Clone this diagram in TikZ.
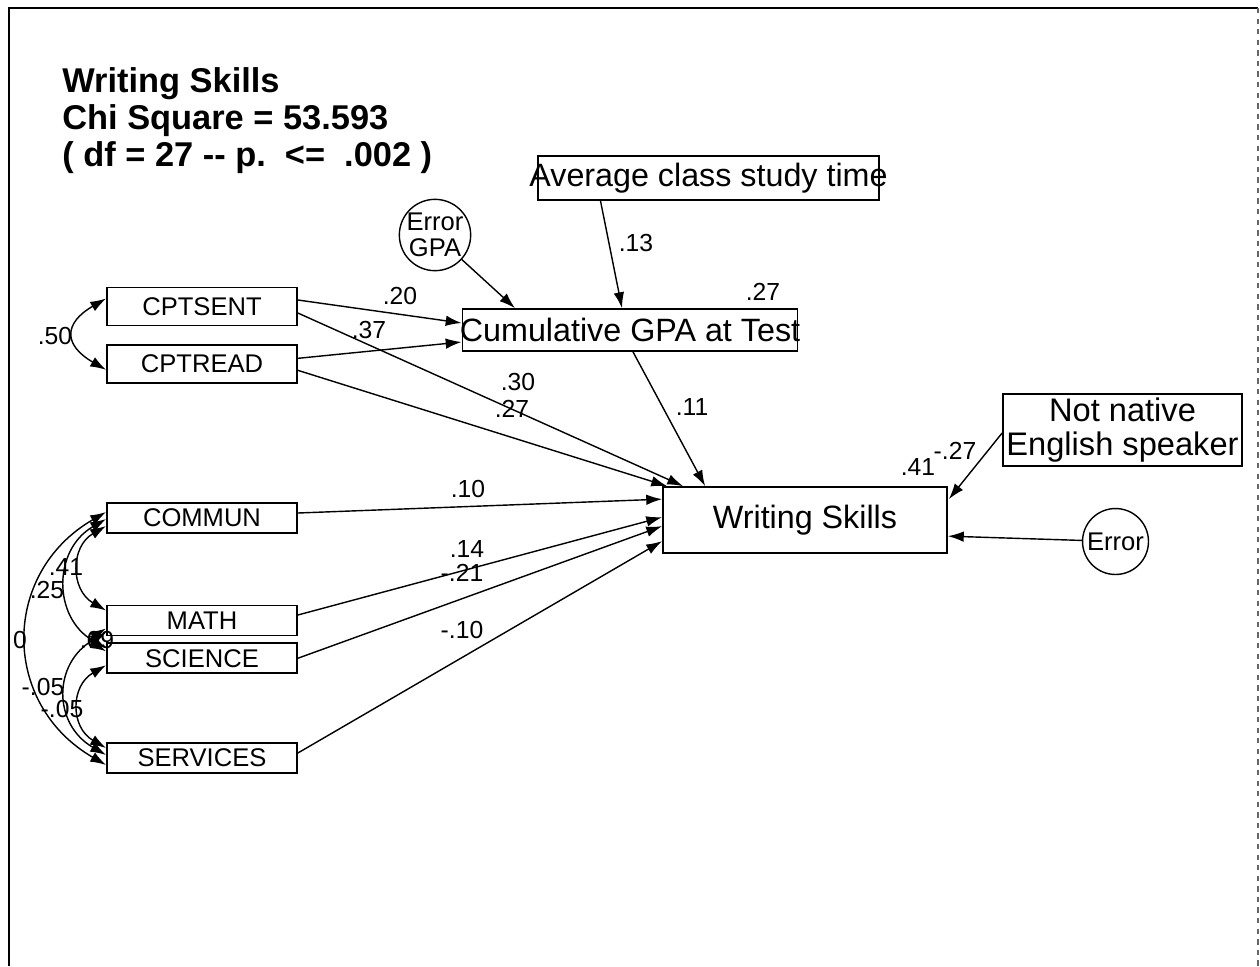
\documentclass[tikz,border=0pt]{standalone}
\usepackage{fontspec}
\setmainfont{Liberation Sans}
\usetikzlibrary{positioning,arrows.meta,calc}

\begin{document}
\begin{tikzpicture}[x=0.567pt, y=0.567pt,
  every node/.style={inner sep=0pt, align=center},
  var/.style={draw, line width=1pt, minimum width=107.7pt, minimum height=17pt,
    font=\fontsize{14.5}{17}\selectfont},
  cpt/.style={var, minimum height=21.5pt},
  big/.style={draw, line width=1pt, font=\fontsize{18.3}{19.5}\selectfont},
  err/.style={draw, circle, line width=0.8pt, font=\fontsize{14.5}{14.5}\selectfont},
  coef/.style={font=\fontsize{14}{16}\selectfont},
  arr/.style={-{Latex[length=9pt,width=6pt]}, line width=0.8pt},
  cov/.style={{Latex[length=9pt,width=6pt]}-{Latex[length=9pt,width=6pt]},
    line width=0.8pt, out=210, in=150}]

  \useasboundingbox (0,0) rectangle (1260,-966);
  % frame of the page
  \draw[line width=1.1pt] (9,-966) -- (9,-8) -- (1258,-8);
  \draw[line width=0.6pt, black!60, dashed] (1258,-8) -- (1258,-966);

  \node[anchor=north west, align=left, font=\fontsize{19.5}{21}\selectfont\bfseries] (title) at (62,-67)
    {Writing Skills\\Chi Square = 53.593\\( df = 27 -{}- p.\ \ <= \ .002 )};

  % exogenous variables
  \node[cpt] (cptsent) at (202,-306.5) {CPTSENT};
  \node[cpt, below=10pt of cptsent] (cptread) {CPTREAD};
  \node[var] (commun) at (202,-518) {COMMUN};
  \node[var] (math) at (202,-620.5) {MATH};
  \node[var, below=3.4pt of math] (science) {SCIENCE};
  \node[var] (services) at (202,-758) {SERVICES};

  \node[big, minimum width=193.3pt, minimum height=25pt] (avg) at (708.5,-178)
    {\makebox[0pt]{Average class study time}};
  \node[err, minimum size=39.7pt] (errgpa) at (435,-235) {Error\\GPA};
  \node[big, minimum width=190pt, minimum height=23.8pt] (gpa) at (630,-330)
    {\makebox[0pt]{Cumulative GPA at Test}};
  \node[big, minimum width=161pt, minimum height=37.4pt] (ws) at (805,-520) {Writing Skills};
  \node[big, minimum width=135.5pt, minimum height=40.8pt, font=\fontsize{18.5}{19.5}\selectfont]
    (nn) at (1122.5,-430) {Not native\\English speaker};
  \node[err, minimum size=37.4pt] (err) at (1115.5,-541.5) {Error};

  % correlations
  \draw[cov] ($(cptsent.west)+(0,8)$) to[distance=28pt] ($(cptread.west)+(0,-6)$);
  \draw[cov] ($(commun.west)+(0,-8)$) to[distance=23.5pt] ($(math.west)+(0,10)$);
  \draw[cov] ($(commun.west)+(0,-1)$) to[distance=35pt] ($(science.west)+(0,10)$);
  \draw[cov] ($(commun.west)+(0,6)$) to[distance=69pt] ($(services.west)+(0,-7)$);
  \draw[cov] ($(math.west)+(0,-8)$) to[distance=10.5pt] ($(science.west)+(0,7)$);
  \draw[cov] ($(math.west)+(0,-12)$) to[distance=35pt] ($(services.west)+(0,3)$);
  \draw[cov] ($(science.west)+(0,-7)$) to[distance=23.5pt] ($(services.west)+(0,10)$);

  % paths
  \draw[arr] ($(cptsent.east)+(0,6.5)$) -- ($(gpa.west)+(0,7)$);
  \draw[arr] ($(cptread.east)+(0,5.5)$) -- ($(gpa.west)+(0,-12)$);
  \draw[arr] ($(cptsent.east)+(0,-6.5)$) -- ($(ws.north west)+(21,0)$);
  \draw[arr] ($(cptread.east)+(0,-6.5)$) -- ($(ws.north west)+(5,0)$);
  \draw[arr] ($(avg.south)+(-108,0)$) -- ($(gpa.north)+(-8,0)$);
  \draw[arr] (errgpa) -- ($(gpa.north)+(-115,0)$);
  \draw[arr] ($(gpa.south)+(3,0)$) -- ($(ws.north west)+(43,0)$);
  \draw[arr] ($(commun.east)+(0,5)$) -- ($(ws.north west)+(0,-13)$);
  \draw[arr] ($(math.east)+(0,5.5)$) -- ($(ws.north west)+(0,-31)$);
  \draw[arr] (science.east) -- ($(ws.north west)+(0,-40)$);
  \draw[arr] ($(services.east)+(0,5)$) -- ($(ws.north west)+(0,-55)$);
  \draw[arr] ($(nn.west)+(0,-3)$) -- ($(ws.north east)+(1,-13)$);
  \draw[arr] (err) -- ($(ws.north east)+(0,-50)$);

  % estimates
  \node[coef] (b50) at (55,-336) {.50};
  \node[coef] (b20) at (400,-296) {.20};
  \node[coef] (b37) at (369,-330) {.37};
  \node[coef] (b30) at (518,-382) {.30};
  \node[coef] (b27a) at (512,-409) {.27};
  \node[coef] (b13) at (636,-243) {.13};
  \node[coef] (r2gpa) at (763,-292) {.27};
  \node[coef] (b11) at (692,-407) {.11};
  \node[coef] (b10) at (468,-489) {.10};
  \node[coef] (b14) at (467,-549) {.14};
  \node[coef] (b21) at (462,-573) {-.21};
  \node[coef] (b10n) at (462,-630) {-.10};
  \node[coef] (r2ws) at (918,-467) {.41};
  \node[coef] (b27n) at (955,-451) {-.27};
  \node[coef] (c41) at (66,-567) {.41};
  \node[coef] (c25) at (47,-590) {.25};
  \node[coef] (c0) at (20,-640) {0};
  \node[coef] (c69) at (97,-640) {.69};
  \node[coef] (c05a) at (43,-687) {-.05};
  \node[coef] (c05b) at (62,-709) {-.05};
\end{tikzpicture}
\end{document}
